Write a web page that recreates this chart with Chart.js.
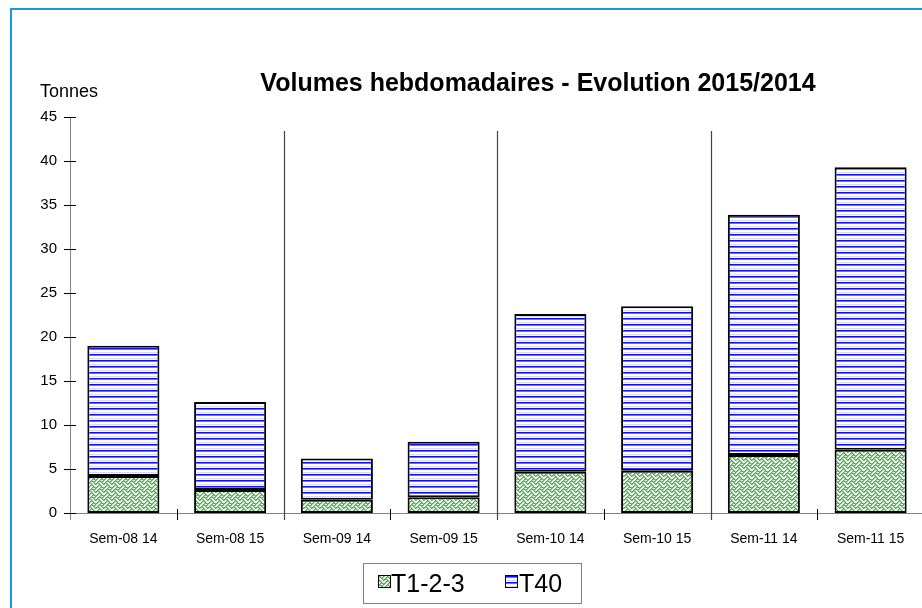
<!DOCTYPE html>
<html lang="fr">
<head>
    <meta charset="UTF-8">
    <title>Volumes hebdomadaires</title>
    <script src="https://cdn.jsdelivr.net/npm/chart.js"></script>
    <style>
        body { margin: 0; overflow: hidden; background: #fff; }
        #wrap { position: relative; width: 926px; height: 608px; }
    </style>
</head>
<body>
    <div id="wrap"><canvas id="volChart"></canvas></div>

    <script>
        // Données (tonnes)
        const semaines = ['Sem-08 14', 'Sem-08 15', 'Sem-09 14', 'Sem-09 15', 'Sem-10 14', 'Sem-10 15', 'Sem-11 14', 'Sem-11 15'];
        const t123 = [4.2, 2.6, 1.5, 1.8, 4.7, 4.8, 6.6, 7.2];
        const t40 = [14.8, 10.0, 4.7, 6.3, 17.9, 18.7, 27.3, 32.1];
        const separateurs = [1, 3, 5]; // après ces catégories

        const FONT = "'Liberation Sans', Arial, sans-serif";

        // motif hachures vertes (tissage)
        function motifVert() {
            const c = document.createElement('canvas');
            c.width = 8; c.height = 8;
            const g = c.getContext('2d');
            g.fillStyle = '#fff';
            g.fillRect(0, 0, 8, 8);
            const bits = [0x11, 0x2a, 0x44, 0xa2, 0x11, 0x28, 0x44, 0x8a];
            bits.forEach((b, y) => {
                for (let x = 0; x < 8; x++) {
                    if (b & (0x80 >> x)) {
                        g.fillStyle = '#39b039';
                        g.fillRect(x, y, 1, 1);
                        g.fillStyle = '#86d286';
                        g.fillRect((x + 1) % 8, y, 1, 1);
                    }
                }
            });
            return g.createPattern(c, 'repeat');
        }

        // motif lignes horizontales bleues
        function motifBleu() {
            const c = document.createElement('canvas');
            c.width = 6; c.height = 6;
            const g = c.getContext('2d');
            g.fillStyle = '#fff';
            g.fillRect(0, 0, 6, 6);
            g.fillStyle = '#0a0aff';
            g.fillRect(0, 0, 6, 1);
            g.fillStyle = '#7070ff';
            g.fillRect(0, 1, 6, 1);
            g.fillStyle = '#d8d8ff';
            g.fillRect(0, 4, 6, 1);
            return g.createPattern(c, 'repeat');
        }

        const pVert = motifVert();
        const pBleu = motifBleu();

        // axes, graduations, séparateurs, titre, légende
        const decor = {
            id: 'decor',
            beforeDatasetsDraw(chart) {
                const { ctx, chartArea: a, scales: { x, y } } = chart;
                const pas = (a.right - a.left) / semaines.length;
                ctx.save();
                ctx.strokeStyle = '#808080';
                ctx.lineWidth = 1;
                ctx.beginPath();
                ctx.moveTo(a.left + 0.5, a.top);
                ctx.lineTo(a.left + 0.5, a.bottom + 7);
                ctx.moveTo(a.left, a.bottom + 0.5);
                ctx.lineTo(a.right, a.bottom + 0.5);
                ctx.stroke();
                ctx.strokeStyle = '#000';
                ctx.beginPath();
                y.ticks.forEach(t => {
                    const py = Math.round(y.getPixelForValue(t.value)) + 0.5;
                    ctx.moveTo(a.left - 6, py);
                    ctx.lineTo(a.left + 6, py);
                });
                for (let i = 0; i < semaines.length - 1; i++) {
                    const px = Math.round(x.getPixelForValue(i) + pas / 2) + 0.5;
                    ctx.moveTo(px, a.bottom - 4);
                    ctx.lineTo(px, a.bottom + 7);
                }
                ctx.stroke();
                ctx.strokeStyle = '#444';
                ctx.lineWidth = 1.2;
                ctx.beginPath();
                separateurs.forEach(i => {
                    const px = Math.round(x.getPixelForValue(i) + pas / 2) + 0.5;
                    ctx.moveTo(px, a.top + 14);
                    ctx.lineTo(px, a.bottom + 7);
                });
                ctx.stroke();
                ctx.restore();
            },
            afterDraw(chart) {
                const { ctx } = chart;
                ctx.save();
                // cadre
                ctx.strokeStyle = '#1a9ad6';
                ctx.lineWidth = 2;
                ctx.beginPath();
                ctx.moveTo(11, 608);
                ctx.lineTo(11, 9);
                ctx.lineTo(926, 9);
                ctx.stroke();
                // titre
                ctx.fillStyle = '#000';
                ctx.textBaseline = 'alphabetic';
                ctx.textAlign = 'center';
                ctx.font = 'bold 25px ' + FONT;
                ctx.fillText('Volumes hebdomadaires - Evolution 2015/2014', 538, 91);
                ctx.textAlign = 'left';
                ctx.font = '18px ' + FONT;
                ctx.fillText('Tonnes', 40, 97);
                // légende
                ctx.strokeStyle = '#808080';
                ctx.lineWidth = 1;
                ctx.strokeRect(363.5, 563.5, 218, 40);
                const items = [
                    { txt: 'T1-2-3', p: pVert, bx: 378, tx: 391 },
                    { txt: 'T40', p: pBleu, bx: 505, tx: 519 }
                ];
                ctx.font = '25px ' + FONT;
                items.forEach(it => {
                    ctx.fillStyle = it.p;
                    ctx.fillRect(it.bx, 575, 13, 13);
                    ctx.strokeStyle = '#000';
                    ctx.strokeRect(it.bx + 0.5, 575.5, 12, 12);
                    ctx.fillStyle = '#000';
                    ctx.fillText(it.txt, it.tx, 592);
                });
                ctx.restore();
            }
        };

        new Chart(document.getElementById('volChart'), {
            type: 'bar',
            data: {
                labels: semaines,
                datasets: [
                    { label: 'T1-2-3', data: t123, backgroundColor: pVert, borderColor: '#000', borderWidth: 2, borderSkipped: false },
                    { label: 'T40', data: t40, backgroundColor: pBleu, borderColor: '#000', borderWidth: 2, borderSkipped: false }
                ]
            },
            options: {
                responsive: true,
                maintainAspectRatio: false,
                animation: false,
                layout: { padding: { top: 117, right: 2, left: 0, bottom: 0 } },
                datasets: { bar: { barPercentage: 0.675, categoryPercentage: 1 } },
                scales: {
                    x: {
                        stacked: true,
                        grid: { display: false },
                        border: { display: false },
                        ticks: { color: '#000', font: { family: FONT, size: 14 }, padding: 10, maxRotation: 0 },
                        afterFit: s => { s.height = 95; }
                    },
                    y: {
                        stacked: true,
                        min: 0,
                        max: 45,
                        grid: { display: false },
                        border: { display: false },
                        ticks: { stepSize: 5, color: '#000', font: { family: FONT, size: 15 }, padding: 5 },
                        afterFit: s => { s.width = 70; }
                    }
                },
                plugins: {
                    legend: { display: false },
                    tooltip: { enabled: false }
                }
            },
            plugins: [decor]
        });
    </script>
</body>
</html>
